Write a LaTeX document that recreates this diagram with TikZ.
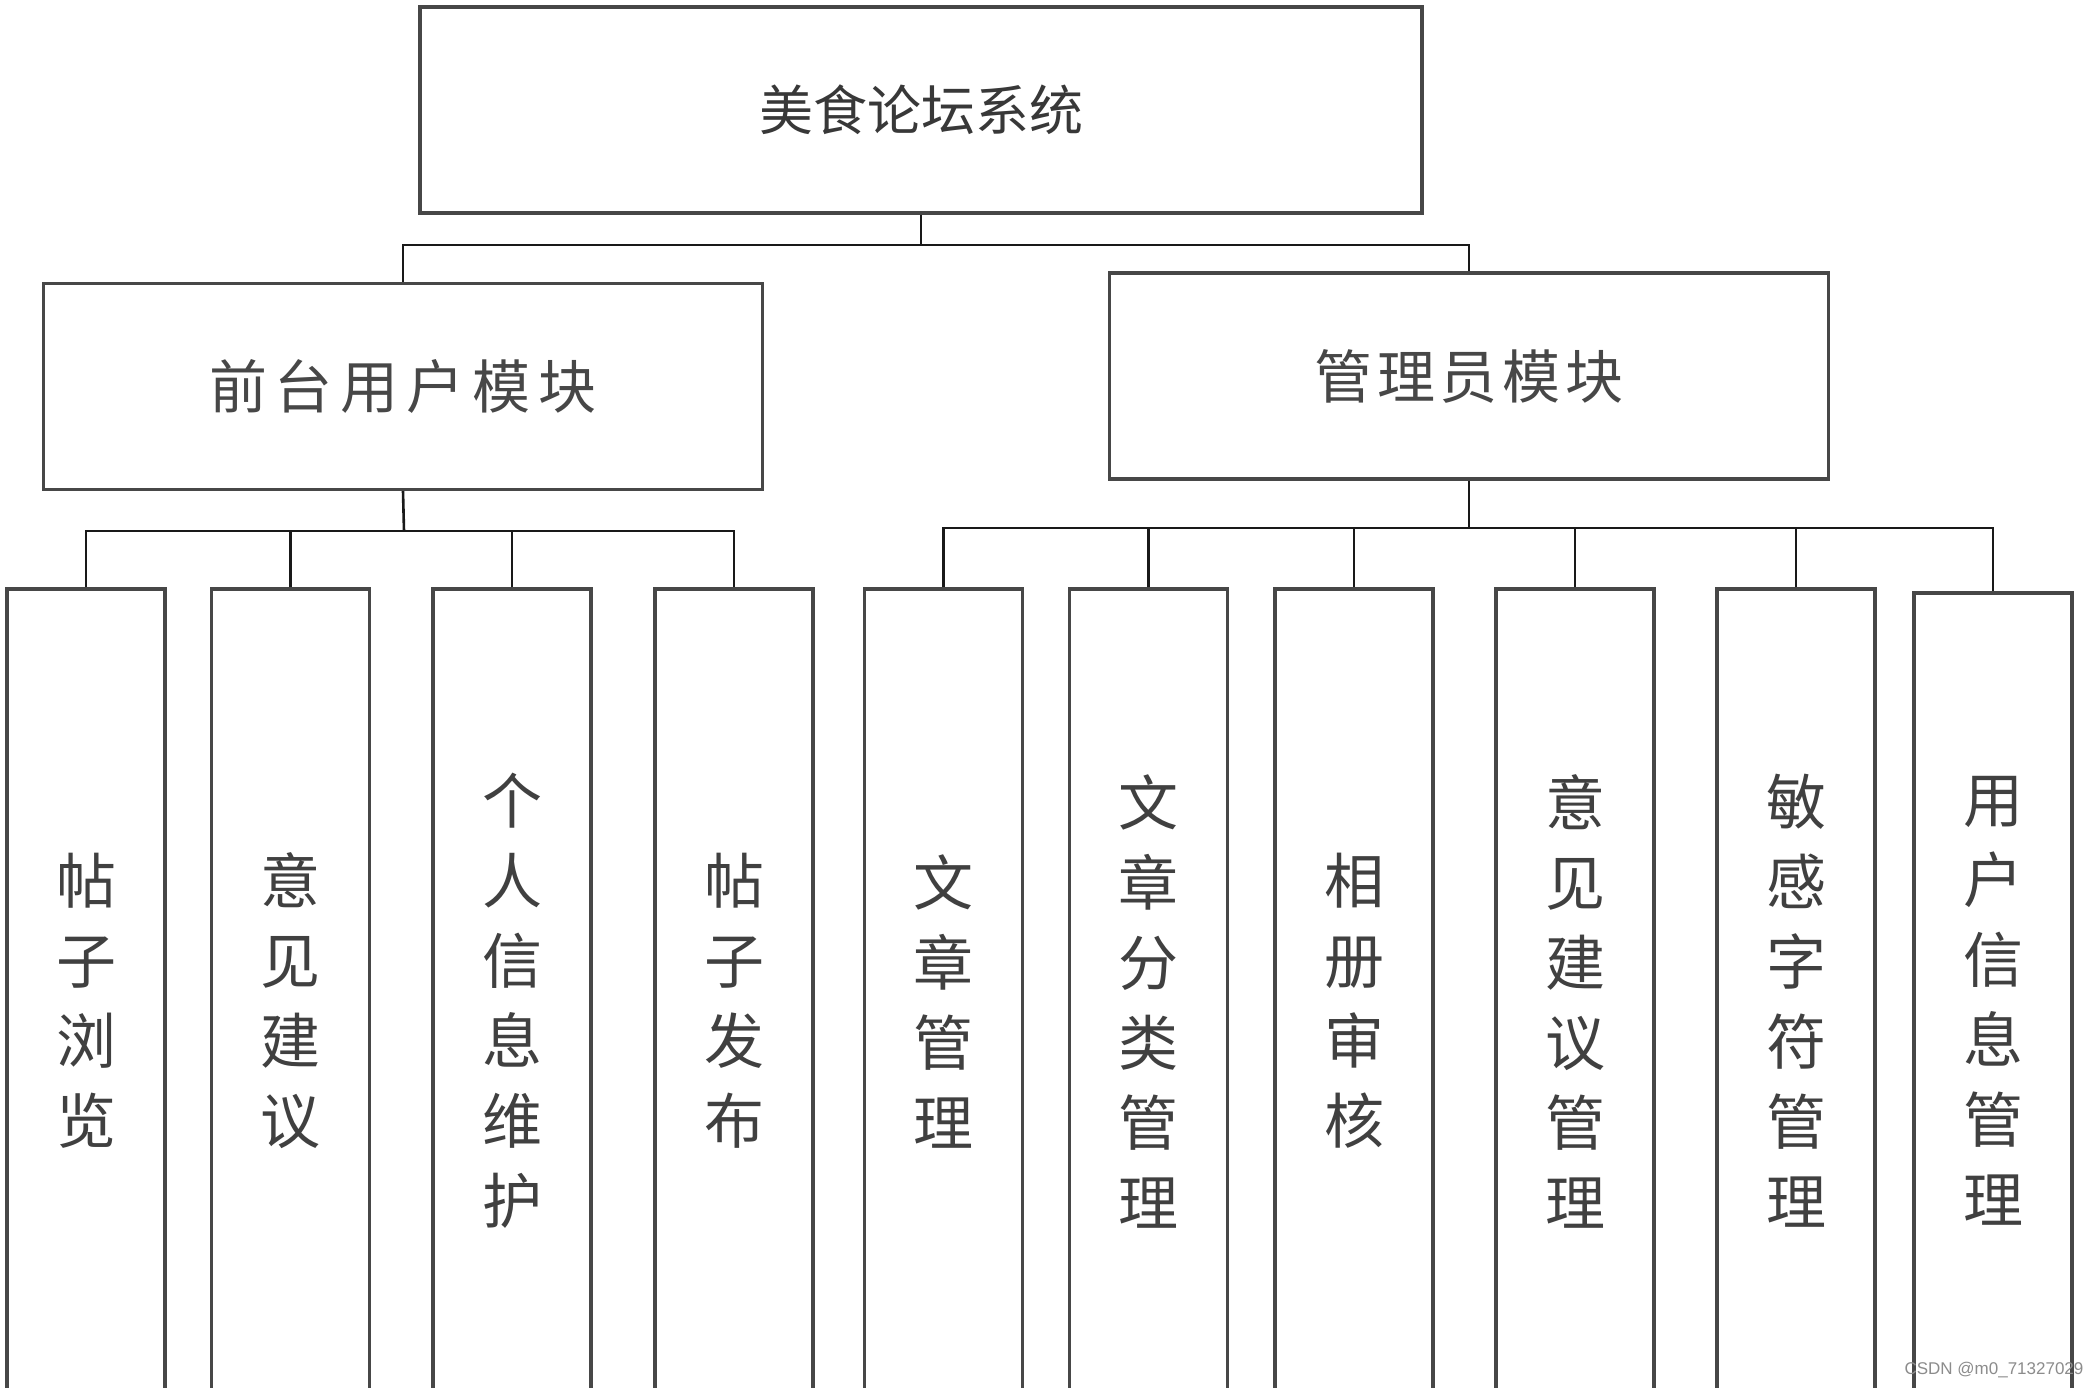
\documentclass[tikz,border=0pt]{standalone}
\usepackage{fontspec}
\newfontfamily\cjk{Noto Sans CJK SC}
\setsansfont{Liberation Sans}
\begin{document}
\begin{tikzpicture}[x=1pt,y=-1pt,
  boxline/.style={draw=black!72,line width=3.2pt},
  topbox/.style={boxline,rectangle,inner sep=0pt,minimum width=1002pt,minimum height=206pt,font=\cjk\fontsize{54}{60}\selectfont,text=black!78},
  midbox/.style={boxline,rectangle,inner sep=0pt,minimum width=719pt,minimum height=206pt,font=\cjk\fontsize{58}{64}\selectfont,text=black!72},
  leafbox/.style={boxline,rectangle,inner sep=0pt,minimum width=158pt,minimum height=824pt,align=center,font=\cjk\fontsize{60}{80}\selectfont,text=black!75},
  conn/.style={draw=black!90,line width=2.6pt}]
\useasboundingbox (0,0) rectangle (2096,1388);
\fill[white] (0,0) rectangle (2096,1388);
\clip (0,0) rectangle (2096,1388);
% top
\node[topbox] (top) at (921,110) {美食论坛系统};
% second level
\node[midbox] (fu) at (403,386.5) {前\hspace{8pt}台\hspace{8pt}用\hspace{8pt}户\hspace{8pt}模\hspace{8pt}块};
\node[midbox] (gl) at (1469,376) {管\hspace{5pt}理\hspace{5pt}员\hspace{5pt}模\hspace{5pt}块};
% leaves
\node[leafbox] (l1) at (86,1001) {帖\\子\\浏\\览};
\node[leafbox] (l2) at (290.5,1001) {意\\见\\建\\议};
\node[leafbox] (l3) at (512,1001) {个\\人\\信\\息\\维\\护};
\node[leafbox] (l4) at (734,1001) {帖\\子\\发\\布};
\node[leafbox] (l5) at (943.5,1001) {文\\章\\管\\理};
\node[leafbox] (l6) at (1148.5,1001) {文\\章\\分\\类\\管\\理};
\node[leafbox] (l7) at (1354,1001) {相\\册\\审\\核};
\node[leafbox] (l8) at (1575,1001) {意\\见\\建\\议\\管\\理};
\node[leafbox] (l9) at (1796,1001) {敏\\感\\字\\符\\管\\理};
\node[leafbox,minimum height=816pt] (l10) at (1993,1001) {用\\户\\信\\息\\管\\理};
% bus coordinates
\coordinate (b0) at (921,245);
\coordinate (b1) at (404,531);
\coordinate (b2) at (1469,528);
% connectors level 1
\draw[conn] (top.south) -- (b0);
\draw[conn] (fu.north) -- (fu.north |- b0) -- (gl.north |- b0) -- (gl.north);
% connectors front
\draw[conn] (fu.south) -- (b1);
\draw[conn] (l1.north) -- (l1.north |- b1) -- (l4.north |- b1) -- (l4.north);
\draw[conn] (l2.north) -- (l2.north |- b1);
\draw[conn] (l3.north) -- (l3.north |- b1);
% connectors admin
\draw[conn] (gl.south) -- (b2);
\draw[conn] (l5.north) -- (l5.north |- b2) -- (l10.north |- b2) -- (l10.north);
\draw[conn] (l6.north) -- (l6.north |- b2);
\draw[conn] (l7.north) -- (l7.north |- b2);
\draw[conn] (l8.north) -- (l8.north |- b2);
\draw[conn] (l9.north) -- (l9.north |- b2);
% watermark
\node[font=\sffamily\fontsize{17}{17}\selectfont,text=black!45] (wm) at (1994,1370) {CSDN @m0\_71327029};
\end{tikzpicture}
\end{document}
